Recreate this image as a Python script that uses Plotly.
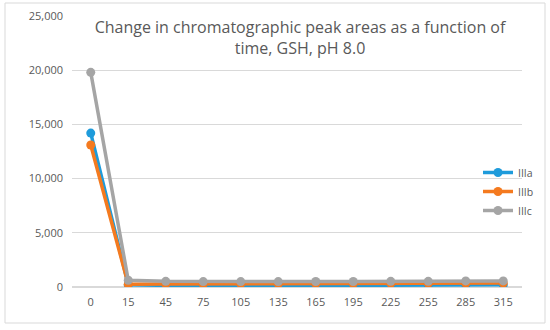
import plotly.graph_objects as go

times = ["0", "15", "45", "75", "105", "135", "165", "195", "225", "255", "285", "315"]
IIIa = [14200, 200, 150, 120, 120, 130, 140, 150, 160, 170, 190, 200]
IIIb = [13100, 250, 280, 280, 290, 300, 310, 320, 330, 330, 350, 360]
IIIc = [19800, 620, 520, 500, 500, 500, 510, 510, 520, 520, 560, 560]

series = [("IIIa", IIIa, "#1E9BDB"), ("IIIb", IIIb, "#F47A1F"), ("IIIc", IIIc, "#A5A5A5")]

fig = go.Figure()
for name, vals, col in series:
    fig.add_trace(go.Scatter(x=times, y=vals, name=name, mode="lines+markers",
                             line=dict(color=col, width=3.5),
                             marker=dict(color=col, size=9)))

L, R, T, B = 72, 28, 16, 43
W, H = 550, 330
pw, ph = W - L - R, H - T - B

fig.update_layout(
    width=W, height=H,
    margin=dict(l=L, r=R, t=T, b=B, autoexpand=False),
    paper_bgcolor="white", plot_bgcolor="white",
    hovermode=False,
    font=dict(family="Open Sans, Liberation Sans, sans-serif", color="#595959", size=11),
    title=dict(text="Change in chromatographic peak areas as a function of<br>time, GSH, pH 8.0",
               xref="container", yref="container",
               x=300 / W, xanchor="center", y=1 - 33 / H, yanchor="top",
               font=dict(size=16, color="#595959")),
    showlegend=True,
    legend=dict(xref="container", yref="container",
                x=478 / W, xanchor="left", y=1 - 158 / H, yanchor="top",
                bgcolor="rgba(0,0,0,0)", font=dict(size=10.5, color="#595959"),
                tracegroupgap=0, itemwidth=30),
    xaxis=dict(type="category", range=[-0.5, len(times) - 0.5], showgrid=False,
               showline=False, ticks="", ticklabelstandoff=7,
               tickfont=dict(size=11, color="#595959"), automargin=False),
    yaxis=dict(range=[0, 25000], dtick=5000, tickformat=",", showgrid=True,
               gridcolor="#D9D9D9", gridwidth=1, zeroline=True, zerolinecolor="#D9D9D9",
               showline=False, ticks="", ticklabelstandoff=8,
               tickfont=dict(size=11, color="#595959"), automargin=False),
)

fig.add_shape(type="rect", xref="paper", yref="paper",
              x0=(5 - L) / pw, x1=(545 - L) / pw,
              y0=(H - B - 323) / ph, y1=(H - B - 3) / ph,
              line=dict(color="#D9D9D9", width=1), fillcolor="rgba(0,0,0,0)", layer="below")

fig.write_html("out.html", config={"displayModeBar": False},
               post_script="document.body.style.margin='0';")
